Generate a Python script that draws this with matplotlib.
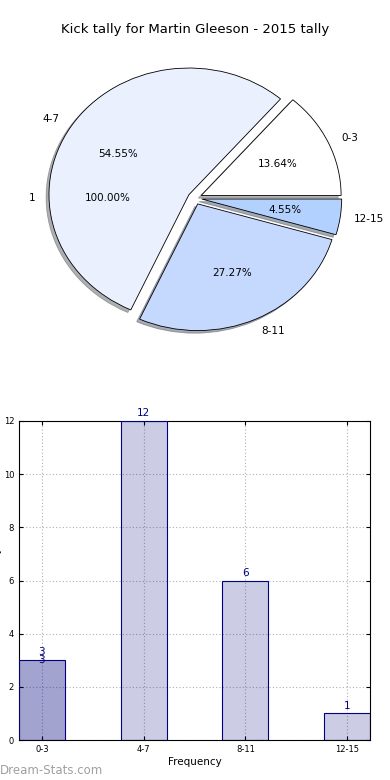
import numpy as np
import matplotlib
matplotlib.use('Agg')
from matplotlib import pyplot as plt

labels = ['0-3', '4-7', '8-11', '12-15']
counts = [3, 12, 6, 1]
pie_colors = ['#ffffff', '#eaf0fe', '#c5d8fe', '#b3d1fe']
total_label = ['1']
total_count = [1]
highlight = [3]

fig = plt.figure(figsize=(3.9, 7.8), dpi=100)
fig.text(0.5, 1 - 30 / 780., 'Kick tally for Martin Gleeson - 2015 tally',
         ha='center', va='center', fontsize=9.5)

# pie
ax1 = fig.add_axes([0.051, 0.543, 0.897, 0.406])
ax1.pie(total_count, labels=total_label, autopct='%.2f%%', colors=['none'],
        wedgeprops={'linewidth': 0}, textprops={'fontsize': 7.5},
        pctdistance=0.62, labeldistance=1.14)
ax1.pie(counts, labels=labels, autopct='%.2f%%', colors=pie_colors,
        explode=[0.05] * len(counts),
        shadow={'ox': -0.015, 'oy': -0.015, 'shade': 0.6}, startangle=0,
        wedgeprops={'edgecolor': 'black', 'linewidth': 0.6},
        textprops={'fontsize': 7.5}, pctdistance=0.6, labeldistance=1.1)
ax1.set_aspect('auto')
ax1.set_xlim(-1.25, 1.25)
ax1.set_ylim(-1.25, 1.25)

# bars
ax2 = fig.add_axes([0.0487, 40 / 780., 0.9, 319 / 780.])
x = np.arange(len(labels))
ax2.bar(x, counts, width=0.45, color='navy', alpha=0.2, zorder=2)
ax2.bar(x, counts, width=0.45, facecolor='none', edgecolor='navy', linewidth=0.8, zorder=3)
ax2.bar(x[:1], highlight, width=0.45, color='navy', alpha=0.2, zorder=2)
for i, v in enumerate(counts):
    ax2.annotate(str(v), (x[i], v), xytext=(0, 2), textcoords='offset points',
                 ha='center', va='bottom', fontsize=7.5, color='navy')
for i, v in enumerate(highlight):
    ax2.annotate(str(v), (x[i], v), xytext=(0, -3.5), textcoords='offset points',
                 ha='center', va='bottom', fontsize=7.5, color='navy')
ax2.set_xlim(-0.225, 3.225)
ax2.set_ylim(0, 12)
ax2.set_yticks(range(0, 13, 2))
ax2.set_xticks(x)
ax2.set_xticklabels(labels)
ax2.tick_params(labelsize=6, direction='in', top=True, right=True, length=3)
ax2.grid(True, linestyle=(0, (1, 2)), color='#b0b0b0', linewidth=0.8, zorder=0)
ax2.set_axisbelow(True)
ax2.set_xlabel('Frequency', fontsize=7.5, labelpad=2)
ax2.set_ylabel('Student tally', fontsize=7.5, labelpad=1)

fig.text(0.0, 0.0035, 'Dream-Stats.com', fontsize=8.5, color='#a0a0a0',
         ha='left', va='bottom')

plt.savefig('out.png', dpi=100)
